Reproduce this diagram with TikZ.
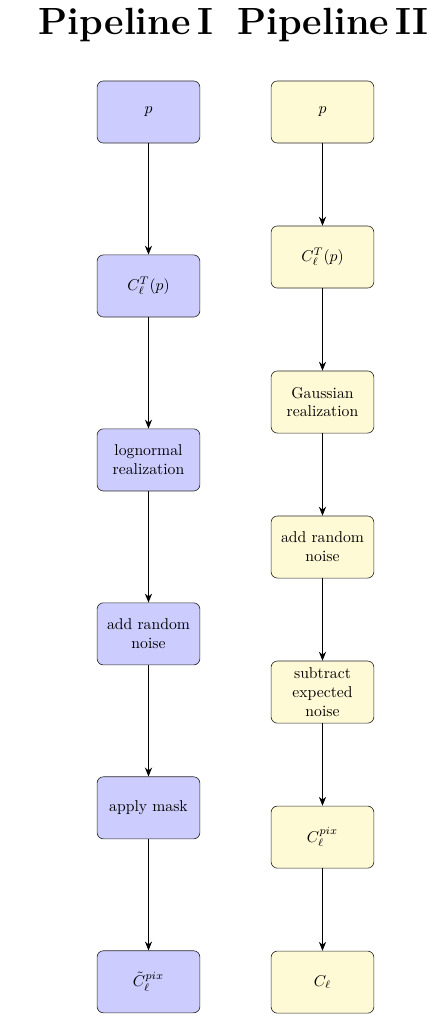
\documentclass[tikz,border=0pt]{standalone}
\usepackage{tikz}
\usetikzlibrary{arrows.meta,positioning}
\usepackage{amsmath}
\definecolor{AzulPalido}{RGB}{204,204,255}
\definecolor{AmarilloPalido}{RGB}{255,250,214}
\definecolor{Borde}{RGB}{40,40,40}
\tikzset{
  pipebox/.style={draw=Borde, rounded corners, fill=#1,
    align=center, text width=2.0cm, minimum height=1.39cm, inner sep=0.15cm},
  pipebox/.default=AzulPalido,
  pipearr/.style={-{Stealth[length=2mm, width=1.6mm]}, line width=0.5pt},
  titulo/.style={font=\Huge\bfseries, anchor=base, inner sep=0pt, scale=0.97},
}
\begin{document}
\begin{tikzpicture}
  \useasboundingbox (0,0) rectangle (9.76,-22.855);
  \node[titulo] (t1) at (2.82,-0.78) {Pipeline\,I};
  \node[titulo] (t2) at (7.45,-0.78) {Pipeline\,II};

  % ---- pipeline I ----
  \node[pipebox] (a1) at (3.324,-2.507) {$p$};
  \node[pipebox, below=2.49cm of a1] (a2) {$C_\ell^T(p)$};
  \node[pipebox, below=2.49cm of a2] (a3) {lognormal realization};
  \node[pipebox, below=2.49cm of a3] (a4) {add random noise};
  \node[pipebox, below=2.49cm of a4] (a5) {apply mask};
  \node[pipebox, below=2.49cm of a5] (a6) {$\tilde{C}_\ell^{pix}$};
  \draw[pipearr] (a1) -- (a2);
  \draw[pipearr] (a2) -- (a3);
  \draw[pipearr] (a3) -- (a4);
  \draw[pipearr] (a4) -- (a5);
  \draw[pipearr] (a5) -- (a6);

  % ---- pipeline II ----
  \node[pipebox=AmarilloPalido] (b1) at (7.219,-2.507) {$p$};
  \node[pipebox=AmarilloPalido, below=1.842cm of b1] (b2) {$C_\ell^T(p)$};
  \node[pipebox=AmarilloPalido, below=1.842cm of b2] (b3) {Gaussian realization};
  \node[pipebox=AmarilloPalido, below=1.842cm of b3] (b4) {add random noise};
  \node[pipebox=AmarilloPalido, below=1.842cm of b4] (b5) {subtract expected noise};
  \node[pipebox=AmarilloPalido, below=1.842cm of b5] (b6) {$C_\ell^{pix}$};
  \node[pipebox=AmarilloPalido, below=1.842cm of b6] (b7) {$C_\ell$};
  \draw[pipearr] (b1) -- (b2);
  \draw[pipearr] (b2) -- (b3);
  \draw[pipearr] (b3) -- (b4);
  \draw[pipearr] (b4) -- (b5);
  \draw[pipearr] (b5) -- (b6);
  \draw[pipearr] (b6) -- (b7);
\end{tikzpicture}
\end{document}
